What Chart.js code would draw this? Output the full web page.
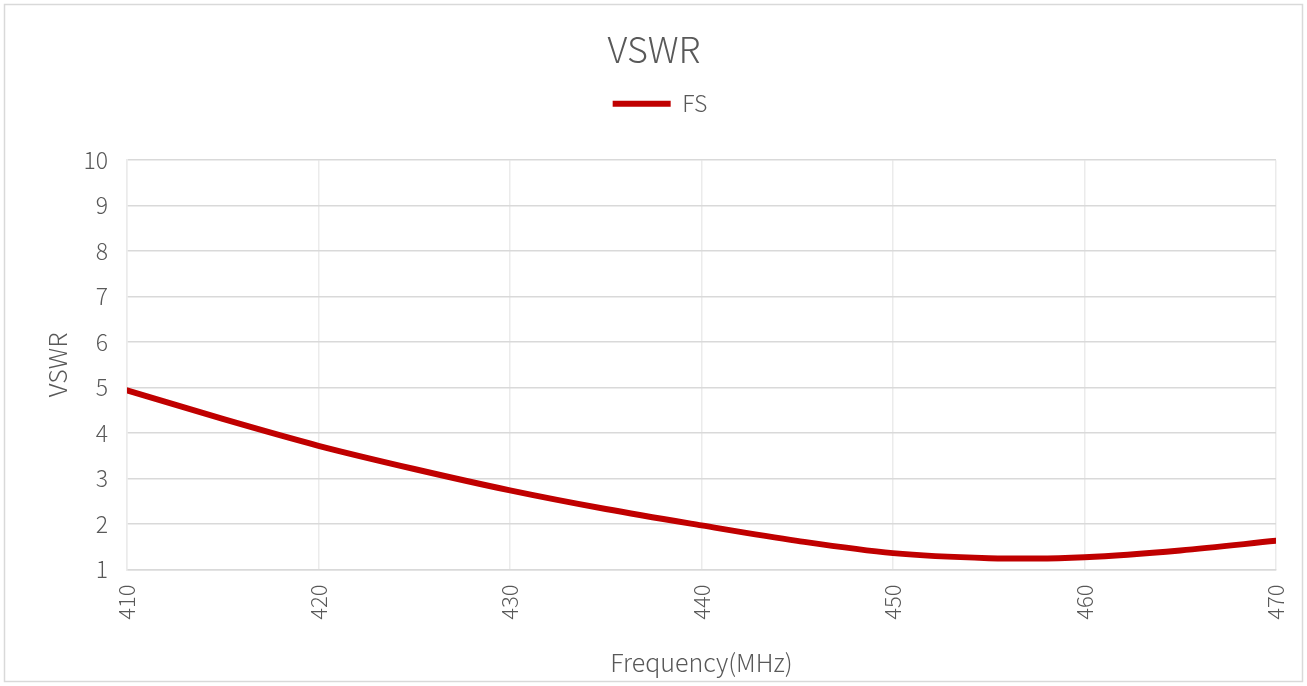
<!DOCTYPE html>
<html>
<head>
<meta charset="utf-8">
<script src="https://cdn.jsdelivr.net/npm/chart.js@4"></script>
<style>
  html, body { margin: 0; padding: 0; background: #fff; }
  #wrap { width: 1307px; height: 686px; position: relative; }
</style>
</head>
<body>
<div id="wrap"><canvas id="chart-vswr"></canvas></div>
<script>
// frequency (MHz) and VSWR
const freqs = [410, 415, 420, 425, 430, 435, 440, 445, 450, 455, 457.5, 460, 465, 470];
const vswrFS = [4.94, 4.31, 3.72, 3.21, 2.74, 2.33, 1.97, 1.63, 1.36, 1.25, 1.24, 1.27, 1.42, 1.63];
const xTicks = [410, 420, 430, 440, 450, 460, 470];
const yTicks = [1, 2, 3, 4, 5, 6, 7, 8, 9, 10];

const FONT = "'Noto Sans CJK SC', 'Noto Sans', sans-serif";
const GREY = "#595959";

// outer frame like the office chart border
const framePlugin = {
  id: "frame",
  beforeDraw(chart) {
    const ctx = chart.ctx;
    ctx.save();
    ctx.fillStyle = "#fff";
    ctx.fillRect(0, 0, chart.width, chart.height);
    ctx.strokeStyle = "#d9d9d9";
    ctx.lineWidth = 1.5;
    ctx.strokeRect(4.5, 4.5, chart.width - 9, chart.height - 9);
    ctx.restore();
  }
};

// extra space under the legend, and nudge title + legend a little to the right
const legendGap = {
  id: "legendGap",
  beforeInit(chart) {
    const fit = chart.legend.fit;
    chart.legend.fit = function () {
      fit.bind(chart.legend)();
      this.height += 35;
    };
  },
  afterLayout(chart) {
    chart.legend.left += 12;
    chart.legend.right += 12;
    if (chart.titleBlock) {
      chart.titleBlock.left += 6;
      chart.titleBlock.right += 6;
    }
  }
};

new Chart(document.getElementById("chart-vswr"), {
  type: "line",
  data: {
    datasets: [{
      label: "FS",
      data: freqs.map((f, i) => ({ x: f, y: vswrFS[i] })),
      borderColor: "#C00000",
      backgroundColor: "#C00000",
      borderWidth: 6,
      borderCapStyle: "round",
      pointRadius: 0,
      pointStyle: "line",
      cubicInterpolationMode: "monotone",
      fill: false
    }]
  },
  options: {
    responsive: true,
    maintainAspectRatio: false,
    animation: false,
    layout: { padding: { left: 20, right: 31, top: 0, bottom: 9 } },
    plugins: {
      title: {
        display: true,
        text: "VSWR",
        color: GREY,
        font: { family: FONT, size: 36, weight: "300" },
        padding: { top: 28, bottom: 11 }
      },
      legend: {
        display: true,
        labels: {
          color: GREY,
          font: { family: FONT, size: 23, weight: "300" },
          usePointStyle: true,
          pointStyleWidth: 58
        }
      },
      tooltip: { enabled: false }
    },
    scales: {
      x: {
        type: "linear",
        min: xTicks[0],
        max: xTicks[xTicks.length - 1],
        afterFit(scale) {
          scale.height = 107.5;
          scale.paddingLeft = 0;
          scale.paddingRight = 0;
        },
        afterBuildTicks(scale) { scale.ticks = xTicks.map(v => ({ value: v })); },
        ticks: {
          color: GREY,
          font: { family: FONT, size: 22, weight: "300" },
          minRotation: 90,
          maxRotation: 90,
          autoSkip: false,
          padding: 15
        },
        grid: { color: "#ebebeb", lineWidth: 1.5, drawTicks: false },
        border: { color: "#d9d9d9", width: 1.5 },
        title: {
          display: true,
          text: "Frequency(MHz)",
          color: GREY,
          font: { family: FONT, size: 25, weight: "300" },
          padding: 0
        }
      },
      y: {
        min: yTicks[0],
        max: yTicks[yTicks.length - 1],
        afterFit(scale) { scale.width = 107; },
        afterBuildTicks(scale) { scale.ticks = yTicks.map(v => ({ value: v })); },
        ticks: {
          color: GREY,
          font: { family: FONT, size: 23, weight: "300" },
          padding: 19
        },
        grid: { color: "#d9d9d9", lineWidth: 1.5, drawTicks: false },
        border: { color: "#ebebeb", width: 1.5 },
        title: {
          display: true,
          text: "VSWR",
          color: GREY,
          font: { family: FONT, size: 25, weight: "300" },
          padding: { top: 22, bottom: 0 }
        }
      }
    }
  },
  plugins: [framePlugin, legendGap]
});
</script>
</body>
</html>
